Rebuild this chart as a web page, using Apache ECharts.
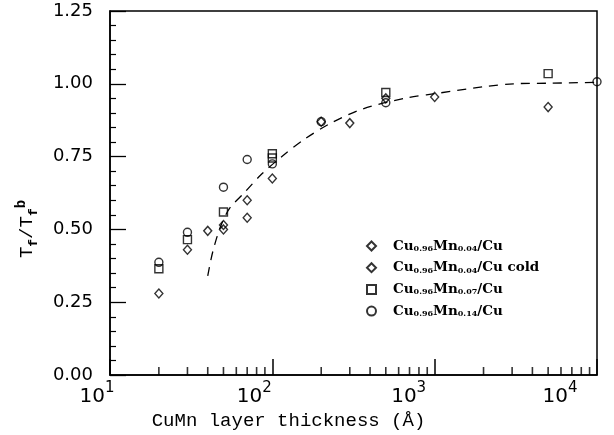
<!DOCTYPE html>
<html><head><meta charset="utf-8">
<script src="https://cdn.jsdelivr.net/npm/echarts@6/dist/echarts.min.js"></script>
<style>html,body{margin:0;padding:0;background:#fff}#c{width:614px;height:435px}</style>
</head><body><div id="c"></div>
<script>
// ---- data ----
const seriesNames = ['Cu0.96Mn0.04/Cu', 'Cu0.96Mn0.04/Cu cold', 'Cu0.96Mn0.07/Cu', 'Cu0.96Mn0.14/Cu'];
const xDia = [20, 30, 50, 70, 100, 300, 1000, 5000];
const yDia = [0.28, 0.43, 0.515, 0.60, 0.675, 0.865, 0.955, 0.92];
const xCold = [40, 50, 70, 200, 500];
const yCold = [0.495, 0.50, 0.54, 0.87, 0.95];
const xSq = [20, 30, 50, 100, 100, 500, 5000];
const ySq = [0.365, 0.465, 0.56, 0.76, 0.745, 0.97, 1.035];
const xCir = [20, 30, 50, 70, 100, 200, 500, 10000];
const yCir = [0.387, 0.49, 0.645, 0.74, 0.725, 0.87, 0.935, 1.007];
const xFit = [40, 42, 44, 48, 54.5, 67.5, 86, 116, 158, 226, 362, 676, 1000, 2000, 3060, 5000, 10000];
const yFit = [0.34, 0.40, 0.445, 0.51, 0.572, 0.627, 0.69, 0.753, 0.81, 0.863, 0.914, 0.952, 0.966, 0.99, 1.0, 1.002, 1.005];
const xMinorTicks = [20,30,40,50,60,70,80,90,200,300,400,500,600,700,800,900,2000,3000,4000,5000,6000,7000,8000,9000];
const xLabelExp = { 10: '1', 100: '2', 1000: '3', 10000: '4' };

const zip = (a, b) => a.map((v, i) => [v, b[i]]);
const labelShift = { 10: 26, 100: 36, 1000: 52, 10000: 74 };

const legendRich = {
  m: { fontFamily: 'DejaVu Serif', fontWeight: 'bold', fontSize: 13.5, lineHeight: 14, color: '#000' },
  s: { fontFamily: 'DejaVu Serif', fontWeight: 'bold', fontSize: 8, lineHeight: 14, verticalAlign: 'bottom', color: '#000', padding: [5, 0, 0, 0] }
};
function legendFmt(name) {
  const m = name.match(/^Cu(0\.\d\d)Mn(0\.\d\d)\/Cu(.*)$/);
  return '{m|Cu}{s|' + m[1] + '}{m|Mn}{s|' + m[2] + '}{m|/Cu' + (m[3] ? ' ' + m[3].trim() : '') + '}';
}

const xRich = {};
Object.keys(labelShift).forEach(k => {
  xRich['b' + k] = { fontFamily: 'DejaVu Sans', fontSize: 20, color: '#000', lineHeight: 26, verticalAlign: 'bottom' };
  xRich['s' + k] = { fontFamily: 'DejaVu Sans', fontSize: 15, color: '#000', lineHeight: 26, verticalAlign: 'top', padding: [0, labelShift[k], 8, 0] };
});

const hollow = { color: 'rgba(0,0,0,0)', borderColor: '#000', borderWidth: 1.4 };

const option = {
  backgroundColor: '#fff',
  animation: false,
  grid: { show: true, borderColor: '#000', borderWidth: 1.5, left: 110, right: 17, top: 11, bottom: 60, outerBoundsMode: 'none', containLabel: false },
  xAxis: {
    type: 'log', min: 10, max: 10000, logBase: 10,
    axisLine: { show: true, lineStyle: { color: '#000', width: 1.5 } },
    axisTick: { show: true, inside: true, length: 16, lineStyle: { color: '#000', width: 1.5 } },
    axisLabel: {
      show: true, margin: 6, hideOverlap: false, showMinLabel: true, showMaxLabel: true,
      formatter: function (v) {
        const k = Math.round(v);
        return '{b' + k + '|10}{s' + k + '|' + xLabelExp[k] + '}';
      },
      rich: xRich
    },
    splitLine: { show: false },
    minorTick: { show: false },
    name: 'CuMn layer thickness (Å)',
    nameLocation: 'middle', nameGap: 36,
    nameTextStyle: { fontFamily: 'Liberation Mono', fontSize: 19, color: '#000', padding: [0, 130, 0, 0] }
  },
  yAxis: {
    type: 'value', min: 0, max: 1.25, interval: 0.25,
    axisLine: { show: true, lineStyle: { color: '#000', width: 1.5 } },
    axisTick: { show: true, inside: true, length: 16, lineStyle: { color: '#000', width: 1.3 } },
    minorTick: { show: true, splitNumber: 5, length: 6, lineStyle: { color: '#000', width: 1.2 } },
    axisLabel: { margin: 17, fontFamily: 'DejaVu Sans', fontSize: 18, color: '#000', formatter: v => v.toFixed(2) },
    splitLine: { show: false },
    name: '{t|T}{sb|f}{t|/T}{sb|f}{sp|b}',
    nameLocation: 'middle', nameGap: 70, nameRotate: 90,
    nameTextStyle: {
      padding: [0, 72, 0, 0],
      rich: {
        t: { fontFamily: 'Liberation Mono', fontSize: 19, color: '#000', lineHeight: 26, verticalAlign: 'middle' },
        sb: { fontFamily: 'Liberation Mono', fontSize: 13, fontWeight: 'bold', color: '#000', lineHeight: 26, verticalAlign: 'bottom', padding: [10, 0, 0, 0] },
        sp: { fontFamily: 'Liberation Mono', fontSize: 14, fontWeight: 'bold', color: '#000', lineHeight: 26, verticalAlign: 'top', padding: [0, 0, 12, 0] }
      }
    }
  },
  legend: {
    orient: 'vertical', left: 361, top: 234,
    itemWidth: 9, itemHeight: 9, itemGap: 7.7,
    data: [
      { name: seriesNames[0], icon: 'diamond' },
      { name: seriesNames[1], icon: 'diamond' },
      { name: seriesNames[2], icon: 'rect' },
      { name: seriesNames[3], icon: 'circle' }
    ],
    formatter: legendFmt,
    textStyle: { rich: legendRich, padding: [0, 0, 0, 12] }
  },
  series: [
    { name: 'minorTicks', type: 'scatter', silent: true, clip: false, z: 5,
      data: xMinorTicks.map(v => [v, 0]),
      symbol: 'rect', symbolSize: [1.6, 8], symbolOffset: [0, -4],
      itemStyle: { color: '#000' }
    },
    { name: 'fit', type: 'line', data: zip(xFit, yFit), smooth: 0.3, showSymbol: false, symbol: 'none',
      lineStyle: { color: '#000', width: 1.3, type: [9, 7] }, z: 1, silent: true },
    { name: seriesNames[0], type: 'scatter', data: zip(xDia, yDia), symbol: 'diamond', symbolSize: [8, 9], itemStyle: hollow, z: 3 },
    { name: seriesNames[1], type: 'scatter', data: zip(xCold, yCold), symbol: 'diamond', symbolSize: [8, 9], itemStyle: hollow, z: 3 },
    { name: seriesNames[2], type: 'scatter', data: zip(xSq, ySq), symbol: 'rect', symbolSize: 8, itemStyle: hollow, z: 3 },
    { name: seriesNames[3], type: 'scatter', data: zip(xCir, yCir), symbol: 'circle', symbolSize: 8, itemStyle: hollow, z: 3 }
  ]
};
const chart = echarts.init(document.getElementById('c'), null, { renderer: 'canvas' });
chart.setOption(option);
</script>
</body></html>
